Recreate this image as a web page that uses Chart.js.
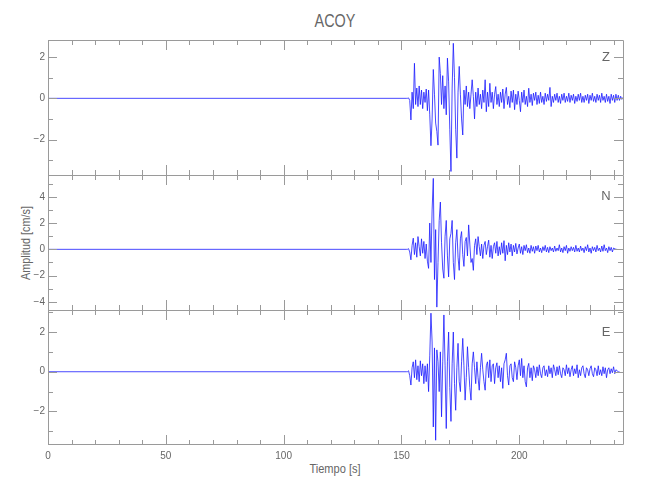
<!DOCTYPE html>
<html>
<head>
<meta charset="utf-8">
<script src="https://cdn.jsdelivr.net/npm/chart.js@4"></script>
<style>
body { margin: 0; background: #fff; }
#wrap { position: relative; width: 650px; height: 500px; font-family: 'Liberation Sans', sans-serif; color: #666; }
.panel { position: absolute; left: 0; width: 650px; }
.txt { position: absolute; white-space: nowrap; z-index: 0; }
.panel { z-index: 1; }
</style>
</head>
<body>
<div id="wrap">
  <div class="txt" style="left:335px; top:21px; font-size:18px; transform: translate(-50%, -50%) scaleX(0.8);">ACOY</div>
  <div class="txt" style="left:26px; top:243px; font-size:12px; transform: translate(-50%, -50%) rotate(-90deg) scaleX(0.9);">Amplitud [cm/s]</div>
  <div class="txt" style="left:335px; top:468px; font-size:13px; transform: translate(-50%, -50%) scaleX(0.85);">Tiempo [s]</div>
  <div class="panel" style="top:40px; height:135px;"><canvas id="zPanel"></canvas></div>
  <div class="panel" style="top:175px; height:135px;"><canvas id="nPanel"></canvas></div>
  <div class="panel" style="top:310px; height:190px;"><canvas id="ePanel"></canvas></div>
</div>
<script>
// traces are flat before the arrival, samples every 0.5 s from 152 s on
const T0 = 152
const DT = 0.5
const X_MAX = 244

const zValues = [
  0, 0, 0.02, -0.1, -1.05, 0.3, -0.5, 1.7, -0.3, 0.5,
  -0.4, 0.6, -0.3, 0.4, -0.5, 0.3, -0.2, 0.45, -0.6, 0.4,
  -0.8, -2.3, -1.0, 1.4, 0.2, -1.2, -1.6, -2.27, 2.0, 1.2,
  -0.3, 1.1, -0.5, 0.6, -0.8, 1.95, 0.8, -1.5, -3.55, 0.5,
  2.67, 1.0, -1.5, -2.9, 0.3, 1.55, 0.2, -1.0, -1.78, 0.4,
  -0.3, 0.6, -0.4, 0.3, -0.5, 0.2, 0.9, 0.1, -1.0, 0.3,
  -0.4, 0.5, -0.3, 0.2, -0.5, 0.4, -0.2, 0.9, -0.65, 0.3,
  -0.4, 0.73, -0.2, 0.3, -0.5, 0.2, 0.57, -0.3, 0.2, -0.4,
  0.3, -0.2, 0.45, -0.5, 0.2, 0.53, -0.3, 0.1, -0.45, 0.35,
  -0.2, 0.4, -0.55, 0.2, -0.3, 0.35, -0.1, -0.65, 0.3, -0.2,
  0.4, -0.3, 0.1, -0.4, 0.49, -0.2, 0.2, -0.35, 0.25, -0.1,
  0.3, -0.3, 0.15, -0.25, 0.3, -0.2, 0.1, -0.3, 0.25, -0.15,
  0.2, -0.1, 0.53, -0.4, 0.1, -0.2, 0.2, -0.1, 0.25, -0.2,
  0.1, -0.25, 0.2, -0.1, 0.25, -0.2, 0.1, -0.15, 0.25, -0.2,
  0.15, -0.1, 0.2, -0.25, 0.1, -0.15, 0.2, -0.1, 0.25, -0.2,
  0.1, -0.2, 0.15, -0.1, 0.2, -0.25, 0.15, -0.1, 0.25, -0.15,
  0.1, -0.2, 0.2, -0.1, 0.15, -0.2, 0.25, -0.1, 0.1, -0.2,
  0.2, -0.15, 0.1, -0.25, 0.2, -0.1, 0.15, -0.2, 0.2, -0.1,
  0.15, -0.1, 0.1, -0.05, 0.05
]

const nValues = [
  0, 0, 0.05, -0.2, -0.8, 0.3, 0.85, -0.4, 0.5, -0.6,
  0.97, 0.2, -0.5, 0.8, -0.3, 0.6, -0.7, 0.4, -0.9, -1.45,
  2.0, -1.0, 3.0, 5.4, -2.3, 1.5, -4.4, -1.0, 2.2, 3.6,
  0.5, -1.5, -2.2, 1.0, 2.2, -0.5, -2.1, 0.8, 1.2, 2.2,
  -1.0, -2.3, 0.5, 1.5, -0.6, -1.6, 0.8, 1.35, -0.4, -1.3,
  0.6, 0.9, -0.5, 1.86, 0.4, -1.0, -0.7, -1.6, 0.3, 0.8,
  -0.4, 0.97, 0.2, -0.5, 0.4, -0.7, 0.3, 0.6, -0.4, 0.2,
  0.7, -0.6, 0.3, -0.7, 0.2, 0.5, -0.3, 0.6, -0.5, 0.2,
  -0.4, 0.5, -0.3, 0.66, -0.87, 0.3, -0.4, 0.5, -0.2, 0.4,
  -0.5, 0.3, -0.2, 0.45, -0.35, 0.1, 0.4, -0.3, 0.2, -0.4,
  0.3, -0.1, 0.35, -0.25, 0.1, -0.3, 0.3, -0.15, 0.2, -0.3,
  0.25, -0.1, 0.3, -0.2, 0.1, -0.25, 0.2, -0.1, 0.3, -0.2,
  0.15, -0.25, 0.2, -0.1, 0.1, -0.2, 0.25, -0.15, 0.1, -0.1,
  0.35, -0.2, 0.1, -0.25, 0.2, -0.1, 0.3, -0.3, 0.1, -0.15,
  0.2, -0.1, 0.15, -0.2, 0.3, -0.15, 0.1, -0.2, 0.25, -0.1,
  0.1, -0.25, 0.2, -0.1, 0.35, -0.2, 0.1, -0.3, 0.2, -0.1,
  0.15, -0.2, 0.3, -0.1, 0.1, -0.2, 0.25, -0.15, 0.35, -0.1,
  0.1, -0.25, 0.2, -0.1, 0.15, -0.2, 0.1, 0.05, 0, 0
]

const eValues = [
  0, 0, 0.05, -0.2, -0.67, 0.2, 0.5, -0.3, 0.6, -0.4,
  0.3, -0.5, 0.55, -0.2, 0.4, -0.6, 0.3, -0.5, 0.4, -1.0,
  0.8, 2.95, 1.5, -2.78, 1.2, -3.45, 1.1, 0.5, -1.0, 1.0,
  -2.27, 0.5, 2.86, 0.3, -2.86, 0.5, 2.0, -0.8, -2.5, 0.4,
  2.0, -0.6, -1.94, 0.2, 1.43, -0.5, -1.0, 0.5, 1.68, 0.3,
  -1.43, -0.3, 1.26, 0.2, -0.8, -1.43, 0.4, 1.0, 0.2, -0.6,
  0.5, -0.3, -0.93, 0.2, 0.93, 0.1, -0.5, -0.93, 0.3, 0.5,
  -0.3, 0.6, -0.5, 0.3, 0.4, -0.6, 0.2, 0.45, -0.3, 0.3,
  -0.5, 0.2, -0.84, 0.4, 0.6, 0.93, -0.2, -0.67, 0.3, 0.4,
  -0.3, -0.5, 0.5, 0.2, -0.4, 0.3, 0.6, -0.2, 0.67, -0.3,
  0.3, -0.5, -0.76, 0.2, 0.42, -0.3, 0.2, -0.45, 0.3, 0.1,
  -0.3, 0.25, -0.2, 0.35, -0.1, -0.3, 0.2, 0.3, -0.2, 0.1,
  -0.25, 0.3, -0.1, 0.2, -0.3, 0.35, 0.1, -0.2, 0.25, -0.15,
  0.3, -0.1, -0.3, 0.2, 0.1, -0.2, 0.35, -0.1, 0.2, -0.25,
  0.1, 0.3, -0.2, 0.15, -0.1, 0.35, -0.3, 0.1, -0.2, 0.2,
  0.3, -0.1, -0.3, 0.2, 0.1, -0.2, 0.15, 0.3, -0.1, -0.25,
  0.2, 0.1, -0.2, 0.3, -0.15, 0.1, -0.2, 0.25, -0.1, 0.2,
  -0.3, 0.1, 0.2, -0.1, 0.15, -0.05, 0.25, -0.1, 0.1, 0.05,
  0, 0
]

const AXIS_GREY = '#9a9a9a'
const TEXT_GREY = '#666'
const TICK_FONT = { family: "'Liberation Sans', sans-serif", size: 10 }

function buildPoints(values){
  const pts = [{ x: 0, y: 0 }]
  values.forEach((v, i) => pts.push({ x: T0 + i * DT, y: v }))
  return pts
}

// box round each panel with inward ticks on all four sides, y labels on every even value,
// plus the component letter
const framePlugin = {
  id: 'panelFrame',
  afterDatasetsDraw(chart, args, opts){
    const { ctx, chartArea: a, scales: { x, y } } = chart
    ctx.save()
    ctx.strokeStyle = AXIS_GREY
    ctx.lineWidth = 1
    ctx.beginPath()
    // bottom edge of an upper panel is the top edge of the next one
    ctx.rect(Math.round(a.left) + 0.5, Math.round(a.top) + 0.5, Math.round(a.right - a.left), Math.round(a.bottom - a.top) - (opts.last ? 1 : 0))
    for (let t = 0; t <= X_MAX; t += 10) {
      const px = Math.round(x.getPixelForValue(t)) + 0.5
      const len = t % 50 === 0 ? 10 : 5
      ctx.moveTo(px, a.top); ctx.lineTo(px, a.top + len)
      ctx.moveTo(px, a.bottom); ctx.lineTo(px, a.bottom - len)
    }
    for (let v = Math.ceil(y.min); v <= y.max; v++) {
      const py = Math.round(y.getPixelForValue(v)) + 0.5
      const len = v % 2 === 0 ? 9 : 5
      ctx.moveTo(a.left, py); ctx.lineTo(a.left + len, py)
      ctx.moveTo(a.right, py); ctx.lineTo(a.right - len, py)
    }
    ctx.stroke()

    ctx.fillStyle = TEXT_GREY
    ctx.font = "10px 'Liberation Sans', sans-serif"
    ctx.textAlign = 'right'
    ctx.textBaseline = 'middle'
    for (let v = Math.ceil(y.min / 2) * 2; v <= y.max; v += 2) {
      const txt = v < 0 ? '\u2212' + Math.abs(v) : String(v)
      ctx.fillText(txt, a.left - 3, y.getPixelForValue(v))
    }

    ctx.font = "13px 'Liberation Sans', sans-serif"
    ctx.textAlign = 'center'
    ctx.fillText(opts.label, a.right - 17, y.getPixelForValue(opts.labelAt))
    ctx.restore()
  }
}

function makePanel(id, values, yMin, yMax, label, labelAt, showX){
  new Chart(document.getElementById(id), {
    type: 'line',
    data: {
      datasets: [{
        data: buildPoints(values),
        borderColor: '#1a1aff',
        borderWidth: 0.8,
        pointRadius: 0,
        tension: 0
      }]
    },
    options: {
      responsive: true,
      maintainAspectRatio: false,
      animation: false,
      layout: { autoPadding: false, padding: { left: 0, right: 27, top: 0, bottom: 0 } },
      plugins: {
        legend: { display: false },
        tooltip: { enabled: false },
        panelFrame: { label: label, labelAt: labelAt, last: showX }
      },
      scales: {
        x: {
          type: 'linear',
          min: 0,
          max: X_MAX,
          display: showX,
          grid: { display: false, drawTicks: false },
          border: { display: false },
          ticks: { stepSize: 50, padding: 5, includeBounds: false, maxRotation: 0, autoSkip: false, color: TEXT_GREY, font: TICK_FONT },
          afterFit(s){ s.height = showX ? 55 : 0; s.paddingLeft = 0; s.paddingRight = 0 }
        },
        y: {
          min: yMin,
          max: yMax,
          grid: { display: false, drawTicks: false },
          border: { display: false },
          ticks: { display: false },
          afterFit(s){ s.width = 48; s.paddingTop = 0; s.paddingBottom = 0 }
        }
      }
    },
    plugins: [framePlugin]
  })
}

makePanel('zPanel', zValues, -3.72, 2.83, 'Z', 2, false)
makePanel('nPanel', nValues, -4.62, 5.66, 'N', 4, false)
makePanel('ePanel', eValues, -3.69, 3.11, 'E', 2, true)
</script>
</body>
</html>
